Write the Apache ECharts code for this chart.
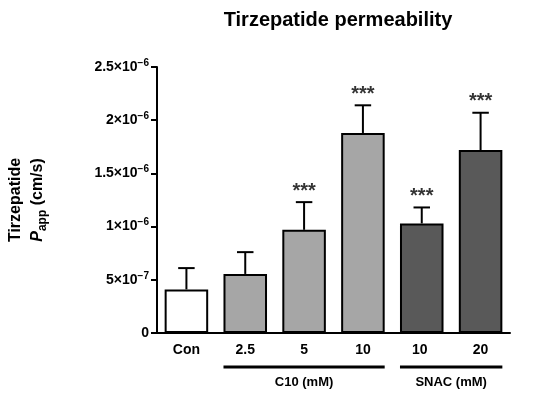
<!DOCTYPE html>
<html><head><meta charset="utf-8">
<script src="https://cdn.jsdelivr.net/npm/echarts@6/dist/echarts.min.js"></script>
<style>body{margin:0}#c{width:550px;height:410px}</style></head>
<body><div id="c"></div>
<script>
const categories = ['Con','2.5','5','10','10 ','20'];
const means = [4.1e-7, 5.55e-7, 9.7e-7, 1.88e-6, 1.03e-6, 1.72e-6];
const errs = [2.0e-7, 2.05e-7, 2.6e-7, 2.6e-7, 1.5e-7, 3.5e-7];
const sig = ['', '', '***', '***', '***', '***'];
const colors = ['#ffffff','#a6a6a6','#a6a6a6','#a6a6a6','#595959','#595959'];
const groups = [{name:'C10 (mM)', from:1, to:3},{name:'SNAC (mM)', from:4, to:5}];
const yTicks = {0:'0',5e-7:'5×10{s|−7}',1e-6:'1×10{s|−6}',1.5e-6:'1.5×10{s|−6}',2e-6:'2×10{s|−6}',2.5e-6:'2.5×10{s|−6}'};

const chart = echarts.init(document.getElementById('c'));
const F = 'Arial, Liberation Sans, sans-serif';
chart.setOption({
  animation:false,
  title:{text:'Tirzepatide permeability',left:333,textAlign:'center',top:5,textStyle:{fontFamily:F,fontSize:20,fontWeight:'bold',color:'#000'}},
  grid:{left:157,right:40,top:67,bottom:77},
  xAxis:{type:'category',data:categories,
    axisLine:{lineStyle:{color:'#000',width:2}},axisTick:{show:false},
    axisLabel:{fontFamily:F,fontSize:14,fontWeight:'bold',color:'#000',margin:10}},
  yAxis:{type:'value',min:0,max:2.5e-6,interval:5e-7,
    name:'{a|Tirzepatide}\n{p|P}{b|app}{a| (cm/s)}',nameLocation:'middle',nameRotate:90,nameGap:108,
    nameTextStyle:{rich:{a:{fontFamily:F,fontSize:16,fontWeight:'bold',color:'#000',lineHeight:22},
      p:{fontFamily:F,fontSize:16,fontWeight:'bold',fontStyle:'italic',color:'#000'},
      b:{fontFamily:F,fontSize:12,fontWeight:'bold',color:'#000',verticalAlign:'bottom',padding:[6,0,0,0]}}},
    splitLine:{show:false},
    axisLine:{show:true,lineStyle:{color:'#000',width:2}},axisTick:{show:true,length:6,lineStyle:{width:2}},
    axisLabel:{fontFamily:F,fontSize:14,fontWeight:'bold',color:'#000',
      formatter:v=>{for(const k in yTicks){if(Math.abs(+k-v)<1e-12)return yTicks[k];}return '';},
      rich:{s:{fontFamily:F,fontSize:10,fontWeight:'bold',color:'#000',verticalAlign:'top',padding:[0,0,8,0]}}}},
  series:[
    {type:'custom',z:1,data:means.map((m,i)=>[i,m,m+errs[i]]),
     renderItem:(p,api)=>{const x=api.coord([api.value(0),api.value(1)]);const t=api.coord([api.value(0),api.value(2)]);
       const w=api.size([1,0])[0]*0.14;
       return {type:'group',children:[
         {type:'line',shape:{x1:x[0],y1:x[1],x2:t[0],y2:t[1]},style:{stroke:'#000',lineWidth:2}},
         {type:'line',shape:{x1:t[0]-w,y1:t[1],x2:t[0]+w,y2:t[1]},style:{stroke:'#000',lineWidth:2}}]};}},
    {type:'bar',z:2,barCategoryGap:'26%',data:means.map((m,i)=>({value:m,itemStyle:{color:colors[i]}})),
     itemStyle:{borderColor:'#000',borderWidth:2}},
    {type:'scatter',symbolSize:0,data:means.map((m,i)=>[i,m+errs[i]]),
     label:{show:true,position:'top',distance:1,formatter:p=>sig[p.dataIndex],fontFamily:F,fontSize:20,fontWeight:'bold',color:'#000'}}
  ]
});
const els=[];
groups.forEach(g=>{
  const a=chart.convertToPixel({xAxisIndex:0},g.from), b=chart.convertToPixel({xAxisIndex:0},g.to);
  const half=chart.convertToPixel({xAxisIndex:0},1)-chart.convertToPixel({xAxisIndex:0},0);
  const x1=a-half*0.37,x2=b+half*0.37,y=367;
  els.push({type:'line',shape:{x1,y1:y,x2,y2:y},style:{stroke:'#000',lineWidth:3}});
  els.push({type:'text',x:(x1+x2)/2,y:y+9,style:{text:g.name,fontFamily:F,fontSize:13,fontWeight:'bold',fill:'#000',align:'center',verticalAlign:'top'}});
});
chart.setOption({graphic:els});
</script></body></html>
